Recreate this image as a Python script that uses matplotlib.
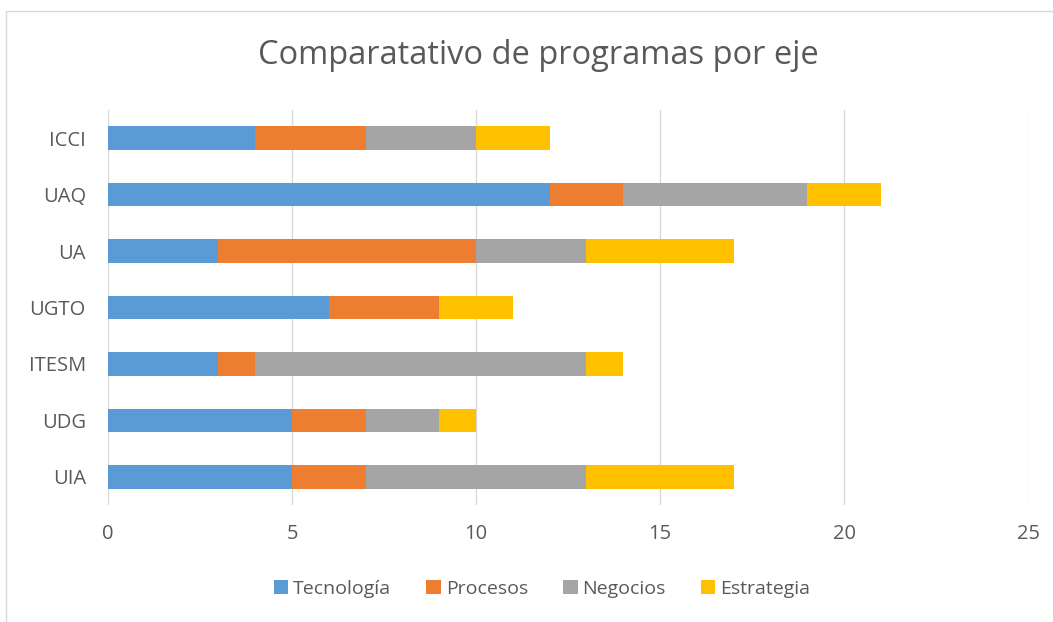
import matplotlib
matplotlib.use("Agg")
import matplotlib.pyplot as plt
from matplotlib.patches import Rectangle

categories = ["UIA", "UDG", "ITESM", "UGTO", "UA", "UAQ", "ICCI"]
tecnologia = [5, 5, 3, 6, 3, 12, 4]
procesos = [2, 2, 1, 3, 7, 2, 3]
negocios = [6, 2, 9, 0, 3, 5, 3]
estrategia = [4, 1, 1, 2, 4, 2, 2]
series_names = ["Tecnología", "Procesos", "Negocios", "Estrategia"]
colors = ["#5B9BD5", "#ED7D31", "#A5A5A5", "#FFC000"]
xticks = [0, 5, 10, 15, 20, 25]

plt.rcParams['font.family'] = ['Open Sans', 'DejaVu Sans']
W, H = 1053, 622
fig = plt.figure(figsize=(W / 100, H / 100), dpi=100)
fig.patches.append(Rectangle((6 / W, -0.1), 1.2, 1.1 - 11 / H, transform=fig.transFigure,
                             fill=False, edgecolor="#D9D9D9", linewidth=1))

ax = fig.add_axes([108 / W, 1 - 505 / H, (1028 - 108) / W, (505 - 110) / H])
txt = "#595959"
left = [0] * len(categories)
for name, vals, c in zip(series_names, [tecnologia, procesos, negocios, estrategia], colors):
    ax.barh(categories, vals, left=left, height=0.42, color=c, label=name, zorder=3)
    left = [l + v for l, v in zip(left, vals)]

ax.set_xlim(0, 25)
ax.set_ylim(-0.5, len(categories) - 0.5)
ax.set_xticks(xticks)
ax.grid(axis="x", color="#D9D9D9", linewidth=1, zorder=0)
for s in ax.spines.values():
    s.set_visible(False)
ax.tick_params(axis="both", length=0, labelsize=14.5, colors=txt)
ax.tick_params(axis="x", pad=14)
ax.tick_params(axis="y", pad=16)

fig.text(538 / W, 1 - 55 / H, "Comparatativo de programas por eje", ha="center", va="center",
         fontsize=23.5, color=txt)
ax.legend(loc="center", bbox_to_anchor=(542 / W, 1 - 589 / H), bbox_transform=fig.transFigure,
          ncol=4, frameon=False, fontsize=14, labelcolor=txt, handlelength=0.75,
          handleheight=0.75, handletextpad=0.25, columnspacing=1.8)
fig.savefig("out.png", dpi=100)
